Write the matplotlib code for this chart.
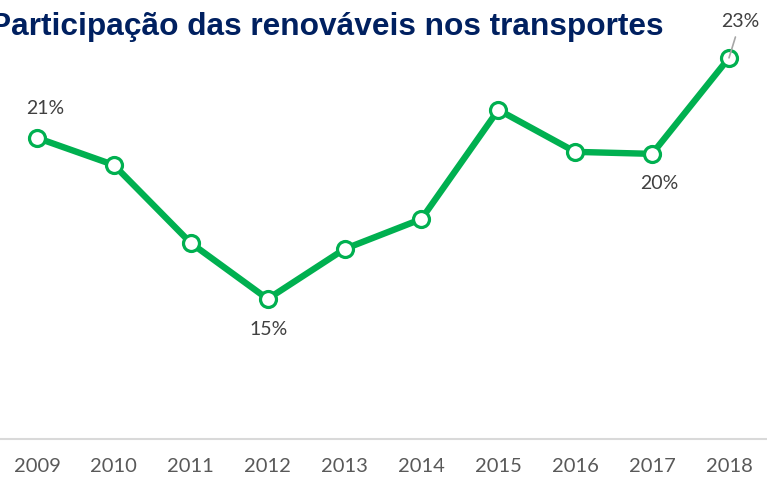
import matplotlib
matplotlib.use("Agg")
import matplotlib.pyplot as plt

# dados (% das renováveis nos transportes)
anos = ["2009", "2010", "2011", "2012", "2013", "2014", "2015", "2016", "2017", "2018"]
participacao = [20.54, 19.59, 16.86, 14.90, 16.65, 17.70, 21.52, 20.05, 19.98, 23.34]
rotulos = {0: "21%", 3: "15%", 8: "20%", 9: "23%"}

titulo = "Participação das renováveis nos transportes"
verde = "#00b050"
azul = "#002060"

fig = plt.figure(figsize=(7.67, 4.79), dpi=100)
ax = fig.add_axes([0, 40 / 479, 1, 439 / 479])

x = list(range(len(anos)))
ax.plot(x, participacao, color=verde, lw=4.6, marker="o", ms=11.5,
        mfc="white", mec=verde, mew=2.3, zorder=3)

ax.set_xlim(-0.481, 9.494)
ax.set_ylim(10, 10 + 439 * 0.035)

# rótulos dos pontos (deslocamentos em pontos)
desloc = {0: (6, 21), 3: (1, -22), 8: (5, -21), 9: (8, 26)}
for i, txt in rotulos.items():
    dx, dy = desloc[i]
    if i == 9:
        ax.annotate(txt, (x[i], participacao[i]), xytext=(dx, dy),
                    textcoords="offset points", ha="center", va="center",
                    fontsize=14, color="#404040", family="Lato", zorder=5,
                    arrowprops=dict(arrowstyle="-", color="#a6a6a6", lw=1.2,
                                    shrinkA=3, shrinkB=0))
    else:
        ax.annotate(txt, (x[i], participacao[i]), xytext=(dx, dy),
                    textcoords="offset points", ha="center", va="center",
                    fontsize=14, color="#404040", family="Lato")

ax.set_xticks(x)
ax.set_xticklabels(anos, fontsize=14.5, color="#595959", family="Lato")
ax.tick_params(axis="x", length=0, pad=14)
ax.set_yticks([])
for lado in ["top", "left", "right"]:
    ax.spines[lado].set_visible(False)
ax.spines["bottom"].set_color("#d9d9d9")
ax.spines["bottom"].set_linewidth(1.5)

fig.text(663 / 767, (479 - 35) / 479, titulo, ha="right", va="baseline",
         fontsize=22.8, fontweight="bold", color=azul, family="Liberation Sans")

fig.savefig("out.png", dpi=100)
